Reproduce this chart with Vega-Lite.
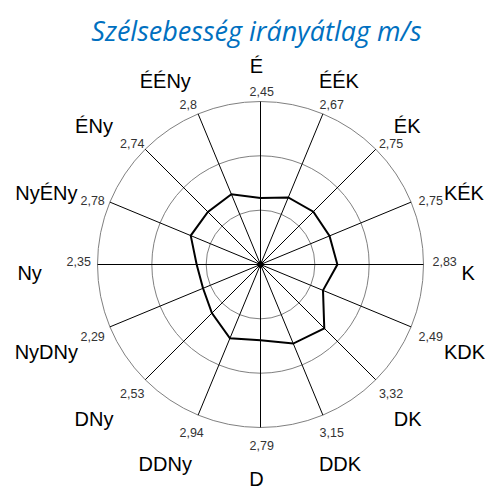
{
  "$schema": "https://vega.github.io/schema/vega-lite/v6.json",
  "width": 400,
  "height": 400,
  "autosize": "none",
  "padding": {"left": 60.5, "top": 64.5, "right": 28.5, "bottom": 26.5},
  "background": "white",
  "config": {
    "view": {"stroke": null},
    "locale": {"number": {"decimal": ",", "thousands": " ", "grouping": [3], "currency": ["", ""]}}
  },
  "title": {
    "text": "Szélsebesség irányátlag m/s",
    "font": "Open Sans",
    "fontStyle": "italic",
    "fontWeight": "normal",
    "fontSize": 27,
    "color": "#0070C0",
    "anchor": "middle",
    "frame": "group",
    "baseline": "alphabetic",
    "offset": -11,
    "dx": -4
  },
  "datasets": {
    "dirs": [
      {"dir": "É", "i": 0, "v": 2.45},
      {"dir": "ÉÉK", "i": 1, "v": 2.67},
      {"dir": "ÉK", "i": 2, "v": 2.75},
      {"dir": "KÉK", "i": 3, "v": 2.75},
      {"dir": "K", "i": 4, "v": 2.83},
      {"dir": "KDK", "i": 5, "v": 2.49},
      {"dir": "DK", "i": 6, "v": 3.32},
      {"dir": "DDK", "i": 7, "v": 3.15},
      {"dir": "D", "i": 8, "v": 2.79},
      {"dir": "DDNy", "i": 9, "v": 2.94},
      {"dir": "DNy", "i": 10, "v": 2.53},
      {"dir": "NyDNy", "i": 11, "v": 2.29},
      {"dir": "Ny", "i": 12, "v": 2.35},
      {"dir": "NyÉNy", "i": 13, "v": 2.78},
      {"dir": "ÉNy", "i": 14, "v": 2.74},
      {"dir": "ÉÉNy", "i": 15, "v": 2.8}
    ],
    "rings": [{"r": 2}, {"r": 4}, {"r": 6}]
  },
  "data": {"name": "dirs"},
  "transform": [
    {"calculate": "datum.i * PI / 8", "as": "a"},
    {"calculate": "0", "as": "z"}
  ],
  "layer": [
    {
      "data": {"name": "rings"},
      "transform": [{"calculate": "0", "as": "z"}],
      "mark": {"type": "point", "shape": "circle", "filled": false, "color": "#808080", "strokeWidth": 1, "opacity": 1},
      "encoding": {
        "x": {"field": "z", "type": "quantitative", "scale": {"domain": [-7.362, 7.362], "nice": false, "zero": false}, "axis": null},
        "y": {"field": "z", "type": "quantitative", "scale": {"domain": [-7.362, 7.362], "nice": false, "zero": false}, "axis": null},
        "size": {"field": "r", "type": "quantitative", "legend": null, "scale": {"type": "pow", "exponent": 2, "domain": [0, 6], "range": [0, 106276], "zero": true}}
      }
    },
    {
      "transform": [
        {"calculate": "6 * sin(datum.a)", "as": "sx"},
        {"calculate": "6 * cos(datum.a)", "as": "sy"}
      ],
      "mark": {"type": "rule", "color": "#000000", "strokeWidth": 1},
      "encoding": {
        "x": {"field": "z", "type": "quantitative"},
        "y": {"field": "z", "type": "quantitative"},
        "x2": {"field": "sx"},
        "y2": {"field": "sy"}
      }
    },
    {
      "transform": [
        {"calculate": "datum.v * sin(datum.a)", "as": "px"},
        {"calculate": "datum.v * cos(datum.a)", "as": "py"}
      ],
      "mark": {"type": "line", "interpolate": "linear-closed", "color": "#000000", "strokeWidth": 2},
      "encoding": {
        "x": {"field": "px", "type": "quantitative"},
        "y": {"field": "py", "type": "quantitative"},
        "order": {"field": "i", "type": "quantitative"}
      }
    },
    {
      "transform": [{"filter": "datum.i == 0"}],
      "mark": {"type": "point", "filled": true, "color": "#000000", "opacity": 1, "size": 40},
      "encoding": {
        "x": {"field": "z", "type": "quantitative"},
        "y": {"field": "z", "type": "quantitative"}
      }
    },
    {
      "transform": [
        {"filter": "datum.i != 4 && datum.i != 12"},
        {"calculate": "6.735 * sin(datum.a)", "as": "lx"},
        {"calculate": "6.515 * cos(datum.a)", "as": "ly"}
      ],
      "mark": {"type": "text", "align": "left", "baseline": "alphabetic", "dx": -11, "dy": 8.5, "font": "Liberation Sans", "fontSize": 12.5, "color": "#333333"},
      "encoding": {
        "x": {"field": "lx", "type": "quantitative"},
        "y": {"field": "ly", "type": "quantitative"},
        "text": {"field": "v", "type": "quantitative", "format": "~g"}
      }
    },
    {
      "transform": [
        {"filter": "datum.i == 4 || datum.i == 12"},
        {"calculate": "6.735 * sin(datum.a)", "as": "lx"},
        {"calculate": "6.515 * cos(datum.a)", "as": "ly"}
      ],
      "mark": {"type": "text", "align": "left", "baseline": "alphabetic", "dx": -11, "dy": 1.5, "font": "Liberation Sans", "fontSize": 12.5, "color": "#333333"},
      "encoding": {
        "x": {"field": "lx", "type": "quantitative"},
        "y": {"field": "ly", "type": "quantitative"},
        "text": {"field": "v", "type": "quantitative", "format": "~g"}
      }
    },
    {
      "transform": [
        {"filter": "datum.i >= 1 && datum.i <= 7"},
        {"calculate": "8.502 * sin(datum.a)", "as": "nx"},
        {"calculate": "7.619 * cos(datum.a)", "as": "ny"}
      ],
      "mark": {"type": "text", "align": "left", "baseline": "alphabetic", "dx": -30, "dy": 15, "font": "Liberation Sans", "fontSize": 20, "color": "#000000"},
      "encoding": {
        "x": {"field": "nx", "type": "quantitative"},
        "y": {"field": "ny", "type": "quantitative"},
        "text": {"field": "dir", "type": "nominal"}
      }
    },
    {
      "transform": [
        {"filter": "datum.i >= 9"},
        {"calculate": "8.09 * sin(datum.a)", "as": "nx"},
        {"calculate": "7.619 * cos(datum.a)", "as": "ny"}
      ],
      "mark": {"type": "text", "align": "center", "baseline": "alphabetic", "dx": -11.1, "dy": 15, "font": "Liberation Sans", "fontSize": 20, "color": "#000000"},
      "encoding": {
        "x": {"field": "nx", "type": "quantitative"},
        "y": {"field": "ny", "type": "quantitative"},
        "text": {"field": "dir", "type": "nominal"}
      }
    },
    {
      "transform": [
        {"filter": "datum.i == 0 || datum.i == 8"},
        {"calculate": "8.09 * sin(datum.a)", "as": "nx"},
        {"calculate": "7.619 * cos(datum.a)", "as": "ny"}
      ],
      "mark": {"type": "text", "align": "center", "baseline": "alphabetic", "dx": -4, "dy": 15, "font": "Liberation Sans", "fontSize": 20, "color": "#000000"},
      "encoding": {
        "x": {"field": "nx", "type": "quantitative"},
        "y": {"field": "ny", "type": "quantitative"},
        "text": {"field": "dir", "type": "nominal"}
      }
    }
  ]
}
